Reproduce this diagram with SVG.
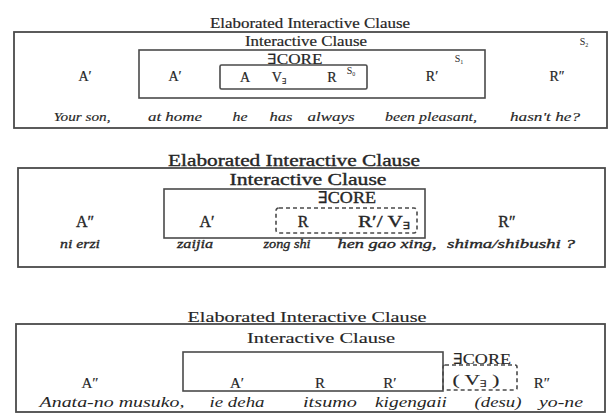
<svg xmlns="http://www.w3.org/2000/svg" width="609" height="413" viewBox="0 0 609 413">
  <style>
    text { font-family: "Liberation Serif", "DejaVu Serif", serif; fill: #262626; text-anchor: middle; }
    .box { fill: none; stroke: #4a4a4a; stroke-width: 1.8; }
    .inner { fill: none; stroke: #4a4a4a; stroke-width: 1.6; }
    .dash { fill: none; stroke: #4a4a4a; stroke-width: 1.6; stroke-dasharray: 4 3; }
    .p1 { font-size: 14px; stroke: #262626; stroke-width: 0.2; }
    .p1s { font-size: 10px; }
    .p1i { font-size: 13px; font-style: italic; stroke: #262626; stroke-width: 0.15; }
    .p2 { font-size: 16px; stroke: #262626; stroke-width: 0.35; }
    .p2i { font-size: 13.5px; font-style: italic; stroke: #262626; stroke-width: 0.35; }
    .p3 { font-size: 15px; stroke: #262626; stroke-width: 0.15; }
    .p3i { font-size: 14px; font-style: italic; }
  </style>
  <rect width="609" height="413" fill="#ffffff"/>

  <!-- English example -->
  <g id="panel-english">
    <g id="eic-1">
      <rect class="box" x="14" y="32" width="593" height="96"/>
      <text class="p1" x="310" y="28" textLength="200" lengthAdjust="spacingAndGlyphs">Elaborated Interactive Clause</text>
      <text class="p1s" x="584" y="45">S<tspan font-size="6" dy="2">2</tspan></text>
      <text class="p1" x="85" y="81">A′</text>
      <text class="p1" x="557" y="81">R″</text>
    </g>
    <g id="ic-1">
      <rect class="inner" x="139" y="50" width="346" height="48"/>
      <text class="p1" x="306" y="46" textLength="122" lengthAdjust="spacingAndGlyphs">Interactive Clause</text>
      <text class="p1s" x="459" y="62">S<tspan font-size="6" dy="2">1</tspan></text>
      <text class="p1" x="175" y="81">A′</text>
      <text class="p1" x="432" y="81">R′</text>
    </g>
    <g id="core-1">
      <text class="p1" x="295" y="64" textLength="55" lengthAdjust="spacingAndGlyphs">∃CORE</text>
      <rect class="inner" x="220" y="65" width="147" height="24" rx="1.5"/>
      <text class="p1" x="245" y="82">A</text>
      <text class="p1" x="279" y="82">V<tspan font-size="8" dy="2">∃</tspan></text>
      <text class="p1" x="332" y="82">R</text>
      <text class="p1s" x="351" y="74">S<tspan font-size="6" dy="2">0</tspan></text>
    </g>
    <g id="gloss-1" class="p1i">
      <text x="82" y="121" textLength="57" lengthAdjust="spacingAndGlyphs">Your son,</text>
      <text x="175" y="121" textLength="54" lengthAdjust="spacingAndGlyphs">at home</text>
      <text x="240" y="121" textLength="15" lengthAdjust="spacingAndGlyphs">he</text>
      <text x="281" y="121" textLength="23" lengthAdjust="spacingAndGlyphs">has</text>
      <text x="331" y="121" textLength="47" lengthAdjust="spacingAndGlyphs">always</text>
      <text x="431" y="121" textLength="92" lengthAdjust="spacingAndGlyphs">been pleasant,</text>
      <text x="545" y="121" textLength="70" lengthAdjust="spacingAndGlyphs">hasn't he?</text>
    </g>
  </g>

  <!-- Chinese example -->
  <g id="panel-chinese">
    <g id="eic-2">
      <rect class="box" x="18" y="168" width="587" height="99"/>
      <text class="p2" x="294" y="166" textLength="252" lengthAdjust="spacingAndGlyphs">Elaborated Interactive Clause</text>
      <text class="p2" x="85" y="227">A″</text>
      <text class="p2" x="507" y="227">R″</text>
    </g>
    <g id="ic-2">
      <rect class="inner" x="164" y="189" width="261" height="49"/>
      <text class="p2" x="308" y="185" textLength="157" lengthAdjust="spacingAndGlyphs">Interactive Clause</text>
      <text class="p2" x="207" y="227">A′</text>
    </g>
    <g id="core-2">
      <text class="p2" x="347" y="203" textLength="58" lengthAdjust="spacingAndGlyphs">∃CORE</text>
      <rect class="dash" x="276" y="208" width="141" height="25" rx="3"/>
      <text class="p2" x="303" y="227">R</text>
      <text class="p2" x="384" y="227" textLength="52" lengthAdjust="spacingAndGlyphs">R′/ V<tspan font-size="10" dy="2">∃</tspan></text>
    </g>
    <g id="gloss-2" class="p2i">
      <text x="80" y="248" textLength="40" lengthAdjust="spacingAndGlyphs">ni erzi</text>
      <text x="195" y="248" textLength="36" lengthAdjust="spacingAndGlyphs">zaijia</text>
      <text x="287" y="248" textLength="47" lengthAdjust="spacingAndGlyphs">zong shi</text>
      <text x="387" y="248" textLength="99" lengthAdjust="spacingAndGlyphs">hen gao xing,</text>
      <text x="511" y="248" textLength="128" lengthAdjust="spacingAndGlyphs">shima/shibushi ?</text>
    </g>
  </g>

  <!-- Japanese example -->
  <g id="panel-japanese">
    <g id="eic-3">
      <rect class="box" x="16" y="324" width="589" height="88"/>
      <text class="p3" x="307" y="322" textLength="239" lengthAdjust="spacingAndGlyphs">Elaborated Interactive Clause</text>
      <text class="p3" x="90" y="388">A″</text>
      <text class="p3" x="542" y="388">R″</text>
    </g>
    <g id="ic-3">
      <rect class="inner" x="183" y="352" width="260" height="39"/>
      <text class="p3" x="321" y="343" textLength="148" lengthAdjust="spacingAndGlyphs">Interactive Clause</text>
      <text class="p3" x="237" y="388">A′</text>
      <text class="p3" x="320" y="388">R</text>
      <text class="p3" x="390" y="388">R′</text>
    </g>
    <g id="core-3">
      <rect class="dash" x="443" y="365" width="74" height="25" rx="2"/>
      <text class="p3" x="482" y="364" textLength="58" lengthAdjust="spacingAndGlyphs">∃CORE</text>
      <text class="p3" x="476" y="385" textLength="47" lengthAdjust="spacingAndGlyphs">( V<tspan font-size="9" dy="2">∃</tspan><tspan dy="-2"> )</tspan></text>
    </g>
    <g id="gloss-3" class="p3i">
      <text x="112" y="407" textLength="145" lengthAdjust="spacingAndGlyphs">Anata-no musuko,</text>
      <text x="237" y="407" textLength="55" lengthAdjust="spacingAndGlyphs">ie deha</text>
      <text x="330" y="407" textLength="54" lengthAdjust="spacingAndGlyphs">itsumo</text>
      <text x="411" y="407" textLength="72" lengthAdjust="spacingAndGlyphs">kigengaii</text>
      <text x="498" y="407" textLength="47" lengthAdjust="spacingAndGlyphs">(desu)</text>
      <text x="561" y="407" textLength="44" lengthAdjust="spacingAndGlyphs">yo-ne</text>
    </g>
  </g>
</svg>
